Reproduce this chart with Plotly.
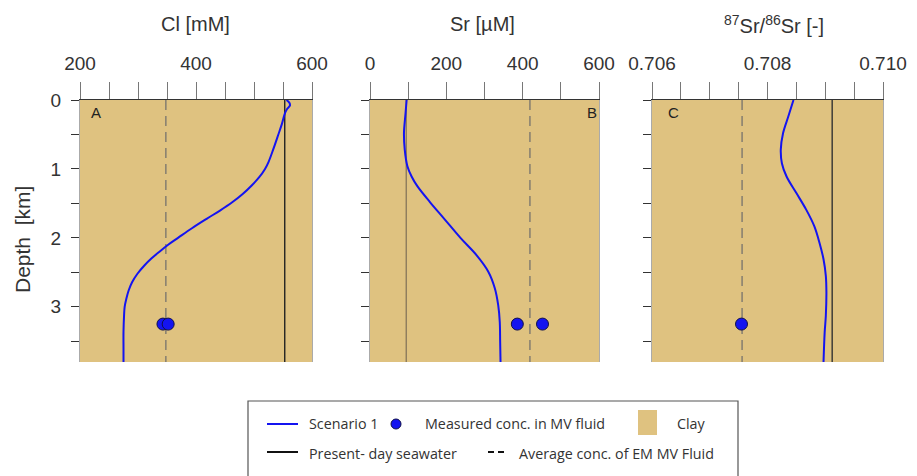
import plotly.graph_objects as go

# ---------------- data ----------------
depth_cl = [0, 0.04, 0.08, 0.13, 0.2, 0.35, 0.5, 0.72, 0.9, 1.0, 1.12, 1.24, 1.36, 1.48, 1.6, 1.72,
            1.86, 2.0, 2.1, 2.2, 2.3, 2.4, 2.52, 2.64, 2.76, 2.88, 3.0, 3.12, 3.36, 3.6, 3.8]
cl_scenario1 = [556, 561, 562, 557, 553, 548, 542, 533, 525, 519, 509, 496, 481, 463, 442, 419,
                393, 369, 352, 337, 323, 311, 299, 290, 284, 280, 277, 276, 275, 275, 275]

depth_sr = [0, 0.2, 0.48, 0.72, 0.96, 1.11, 1.25, 1.48, 1.72, 2.0, 2.25, 2.49, 2.73, 2.98, 3.22, 3.5, 3.8]
sr_scenario1 = [96, 93, 89, 91, 98, 109, 124, 157, 194, 237, 279, 310, 327, 336, 340, 341, 342]

depth_iso = [0, 0.24, 0.48, 0.72, 0.92, 1.11, 1.35, 1.59, 1.83, 2.07, 2.31, 2.55, 2.79, 3.13, 3.37, 3.8]
iso_scenario1 = [0.70845, 0.70836, 0.70827, 0.70823, 0.70825, 0.70833, 0.70850, 0.70867, 0.70881,
                 0.70890, 0.70897, 0.70901, 0.70902, 0.70901, 0.70899, 0.70897]

measured_depth_cl = [3.25, 3.25]
measured_cl = [343, 352]
measured_depth_sr = [3.25, 3.25]
measured_sr = [386, 452]
measured_depth_iso = [3.25]
measured_iso = [0.70755]

seawater = {"cl": 553, "sr": 95, "iso": 0.70912}
em_average = {"cl": 348, "sr": 419, "iso": 0.70756}

depth_range = [0, 3.8]

panel_titles = ["Cl [mM]", "Sr [µM]", "<sup>87</sup>Sr/<sup>86</sup>Sr [-]"]
panel_letters = ["A", "B", "C"]
x_ranges = [[200, 600], [0, 600], [0.706, 0.710]]
x_major = [200, 200, 0.002]
x_minor = [50, 100, 0.0005]
x_fmt = ["d", "d", ".3f"]

legend_labels = ["Scenario 1", "Measured conc. in MV fluid", "Clay",
                 "Present- day seawater", "Average conc. of EM MV Fluid"]

# ---------------- style ----------------
W, H = 917, 476
CLAY = "#dfc280"
BLUE = "#1414f0"
FONT = "Liberation Sans"
LFONT = "Open Sans"
domains_x = [[80 / W, 312 / W], [370 / W, 599 / W], [652 / W, 883 / W]]
domain_y = [1 - 362 / H, 1 - 100 / H]
sea_colors = ["#222222", "#8c7b5c", "#333333"]


def px(x):
    return x / W


def py(y):
    return 1 - y / H


fig = go.Figure()

curves = [(cl_scenario1, depth_cl), (sr_scenario1, depth_sr), (iso_scenario1, depth_iso)]
meas = [(measured_cl, measured_depth_cl), (measured_sr, measured_depth_sr), (measured_iso, measured_depth_iso)]
keys = ["cl", "sr", "iso"]

for i in range(3):
    xa = "x" if i == 0 else f"x{i + 1}"
    ya = "y" if i == 0 else f"y{i + 1}"
    k = keys[i]
    fig.add_trace(go.Scatter(x=[em_average[k], em_average[k]], y=depth_range, mode="lines",
                             line=dict(color="#8a8270", width=1.6, dash="10px,6px"),
                             xaxis=xa, yaxis=ya, showlegend=False, hoverinfo="skip"))
    fig.add_trace(go.Scatter(x=[seawater[k], seawater[k]], y=depth_range, mode="lines",
                             line=dict(color=sea_colors[i], width=1.4),
                             xaxis=xa, yaxis=ya, showlegend=False, hoverinfo="skip"))
    fig.add_trace(go.Scatter(x=curves[i][0], y=curves[i][1], mode="lines",
                             line=dict(color=BLUE, width=2, shape="spline", smoothing=1.0),
                             xaxis=xa, yaxis=ya, showlegend=False, cliponaxis=False))
    fig.add_trace(go.Scatter(x=meas[i][0], y=meas[i][1], mode="markers",
                             marker=dict(color=BLUE, size=12, line=dict(color="#10104a", width=1)),
                             xaxis=xa, yaxis=ya, showlegend=False))

layout = dict(width=W, height=H, margin=dict(l=0, r=0, t=0, b=0, pad=0, autoexpand=False),
              paper_bgcolor="white", plot_bgcolor=CLAY, showlegend=False,
              font=dict(family=FONT, color="#333333"))

for i in range(3):
    xk = "xaxis" if i == 0 else f"xaxis{i + 1}"
    yk = "yaxis" if i == 0 else f"yaxis{i + 1}"
    ya = "y" if i == 0 else f"y{i + 1}"
    xa = "x" if i == 0 else f"x{i + 1}"
    layout[xk] = dict(domain=domains_x[i], anchor=ya, side="top", range=x_ranges[i],
                      dtick=x_major[i], tick0=x_ranges[i][0], tickformat=x_fmt[i],
                      ticks="outside", ticklen=17, tickcolor="#777777", tickwidth=1,
                      minor=dict(dtick=x_minor[i], tick0=x_ranges[i][0], ticks="outside",
                                 ticklen=17, tickcolor="#777777", tickwidth=1),
                      showgrid=False, zeroline=False, showline=True, linecolor="#333333",
                      linewidth=1.2, automargin=False, ticklabelstandoff=4,
                      tickfont=dict(size=19, color="#333333"))
    layout[yk] = dict(domain=domain_y, anchor=xa, range=[3.8, 0], dtick=1, tick0=0,
                      ticks="outside", ticklen=8, tickcolor="#333333",
                      minor=dict(dtick=0.5, tick0=0, ticks="outside", ticklen=8, tickcolor="#333333"),
                      showticklabels=(i == 0), showgrid=False, zeroline=False,
                      showline=True, linecolor="#aaaaaa", mirror=True, linewidth=1,
                      automargin=False, ticklabelstandoff=6,
                      tickfont=dict(size=19, color="#333333"))

fig.update_layout(**layout)

annotations = []
title_x = [195, 482, 774]
for i in range(3):
    annotations.append(dict(text=panel_titles[i], x=px(title_x[i]), y=py(24), xref="paper", yref="paper",
                            showarrow=False, xanchor="center", yanchor="middle",
                            font=dict(size=20, family=FONT, color="#333333")))
letter_pos = [(96, 112), (592, 112), (673, 112)]
for i in range(3):
    annotations.append(dict(text=panel_letters[i], x=px(letter_pos[i][0]), y=py(letter_pos[i][1]),
                            xref="paper", yref="paper", showarrow=False,
                            xanchor="center", yanchor="middle",
                            font=dict(size=15, family=FONT, color="#222222")))
annotations.append(dict(text="Depth  [km]", x=px(22), y=py(240), xref="paper", yref="paper",
                        showarrow=False, textangle=-90, xanchor="center", yanchor="middle",
                        font=dict(size=21, family=FONT, color="#333333")))

leg_pos = [(307, 423), (423, 423), (675, 423), (307, 453), (517, 453)]
for t, (x, y) in zip(legend_labels, leg_pos):
    annotations.append(dict(text=t, x=px(x), y=py(y), xref="paper", yref="paper", showarrow=False,
                            xanchor="left", yanchor="middle",
                            font=dict(size=14.3, family=LFONT, color="#333333")))

shapes = [
    dict(type="rect", xref="paper", yref="paper", x0=px(248), x1=px(738), y0=py(480), y1=py(401),
         line=dict(color="#555555", width=1.2), fillcolor="rgba(0,0,0,0)"),
    dict(type="line", xref="paper", yref="paper", x0=px(267), x1=px(298), y0=py(424), y1=py(424),
         line=dict(color=BLUE, width=2)),
    dict(type="circle", xref="paper", yref="paper", x0=px(391), x1=px(401), y0=py(429), y1=py(419),
         fillcolor=BLUE, line=dict(color="#10104a", width=1)),
    dict(type="rect", xref="paper", yref="paper", x0=px(638), x1=px(657), y0=py(435), y1=py(410),
         fillcolor=CLAY, line=dict(width=0)),
    dict(type="line", xref="paper", yref="paper", x0=px(267), x1=px(298), y0=py(452), y1=py(452),
         line=dict(color="#111111", width=2)),
    dict(type="line", xref="paper", yref="paper", x0=px(488), x1=px(508), y0=py(452), y1=py(452),
         line=dict(color="#111111", width=2, dash="6px,4px")),
]
fig.update_layout(annotations=annotations, shapes=shapes)

fig.write_html("out.html", config={"displayModeBar": False},
               post_script="document.body.style.margin='0';")
